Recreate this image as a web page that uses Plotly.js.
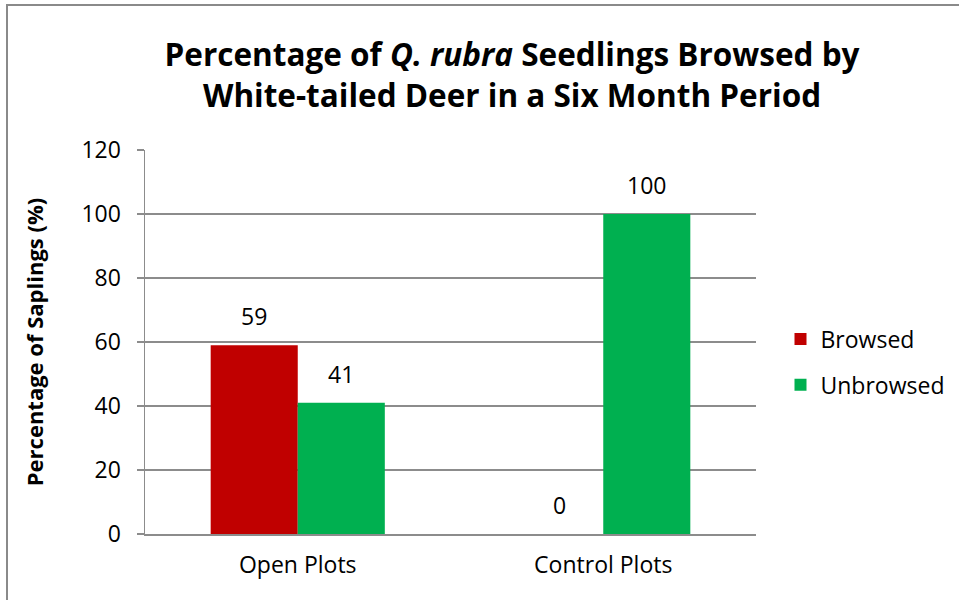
<!DOCTYPE html>
<html>
<head>
<meta charset="utf-8">
<script src="https://cdn.plot.ly/plotly-3.0.1.min.js"></script>
<style>html,body{margin:0;padding:0;background:#fff}#chart{width:959px;height:600px}</style>
</head>
<body>
<div id="chart"></div>
<script>
const categories = ["Open Plots", "Control Plots"];
const browsed = [59, 0];
const unbrowsed = [41, 100];
const seriesNames = ["Browsed", "Unbrowsed"];
const yTicks = [0, 20, 40, 60, 80, 100, 120];

const W = 959, H = 600;
const M = {l: 145, r: 203, t: 150, b: 66, autoexpand: false};
const FONT = "Open Sans, Arial, sans-serif";
const gridCol = "#8c8c8c";
const FS = 23;

const traces = [
  {type: "bar", name: seriesNames[0], x: categories, y: browsed, marker: {color: "#C00000"}, legendgroup: "a", hoverinfo: "y"},
  {type: "bar", name: seriesNames[1], x: categories, y: unbrowsed, marker: {color: "#00B050"}, legendgroup: "b", hoverinfo: "y"}
];

// data labels above bars
const plotW = W - M.l - M.r;
const catW = plotW / categories.length;
const bargap = 0.43;
const barW = catW * (1 - bargap) / 2;
const annotations = [];
[browsed, unbrowsed].forEach((vals, si) => {
  vals.forEach((v, i) => {
    annotations.push({
      x: categories[i], y: v, xref: "x", yref: "y",
      text: String(v), showarrow: false,
      xshift: (si === 0 ? -1 : 1) * barW / 2,
      yanchor: "bottom", yshift: 11,
      font: {family: FONT, size: FS, color: "#000"}
    });
  });
});

const px2fx = p => (p - M.l) / plotW;
const plotH = H - M.t - M.b;
const py2fy = p => (H - M.b - p) / plotH;

const layout = {
  width: W, height: H,
  margin: M,
  paper_bgcolor: "#fff", plot_bgcolor: "#fff",
  font: {family: FONT, size: FS, color: "#000"},
  title: {
    text: "Percentage of <i>Q. rubra</i> Seedlings Browsed by<br>White-tailed Deer in a Six Month Period",
    font: {family: FONT, size: 31.5, color: "#000", weight: "bold"},
    x: 512 / W, xanchor: "center", xref: "container",
    y: 1 - 66 / H, yanchor: "top", yref: "container"
  },
  barmode: "group",
  bargap: bargap, bargroupgap: 0,
  showlegend: true,
  legend: {
    x: px2fx(780.5), xanchor: "left", y: py2fy(317.5), yanchor: "top",
    font: {family: FONT, size: FS, color: "#000"},
    traceorder: "grouped", tracegroupgap: 13,
    bgcolor: "rgba(0,0,0,0)"
  },
  xaxis: {
    type: "category",
    showline: true, linecolor: gridCol, linewidth: 1.5,
    showgrid: false, ticks: "", tickfont: {family: FONT, size: FS, color: "#000"},
    ticklabelstandoff: 10,
    zeroline: false
  },
  yaxis: {
    range: [0, 120], tickvals: yTicks, ticktext: yTicks.map(String),
    showline: true, linecolor: gridCol, linewidth: 1.5,
    showgrid: true, gridcolor: gridCol, gridwidth: 1.5,
    ticks: "outside", ticklen: 7, tickcolor: gridCol, tickwidth: 1.5,
    ticklabelstandoff: 11,
    zeroline: false,
    tickfont: {family: FONT, size: FS, color: "#000"},
    title: {text: "Percentage of Saplings (%)", font: {family: FONT, size: 22, color: "#000", weight: "bold"}, standoff: 31}
  },
  annotations: annotations,
  shapes: [{
    type: "rect", xref: "paper", yref: "paper",
    x0: px2fx(7), x1: px2fx(W + 10), y0: py2fy(H + 10), y1: py2fy(5),
    line: {color: "#8a8a8a", width: 2}, fillcolor: "rgba(0,0,0,0)", layer: "below"
  }]
};

Plotly.newPlot("chart", traces, layout, {displayModeBar: false, staticPlot: true});
</script>
</body>
</html>
